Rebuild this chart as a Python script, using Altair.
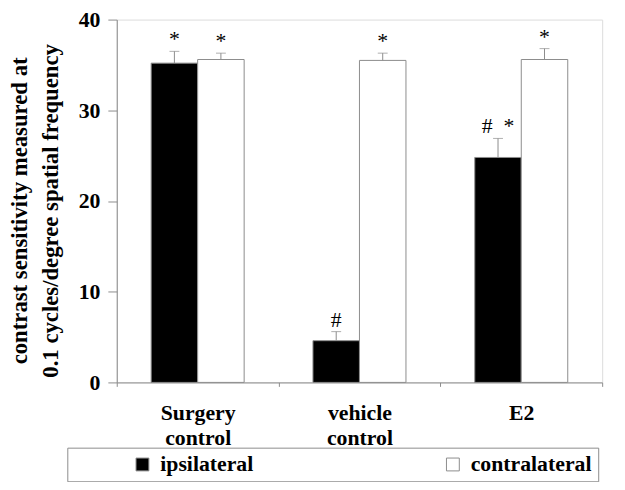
import altair as alt
import pandas as pd

groups = ["Surgery control", "vehicle control", "E2"]
sides = ["ipsilateral", "contralateral"]
ipsi = [35.2, 4.6, 24.8]
contra = [35.6, 35.5, 35.6]
ipsi_err = [1.3, 1.0, 2.1]
contra_err = [0.7, 0.8, 1.2]
ipsi_marks = ["*", "#", "#\u00a0\u00a0*"]
contra_marks = ["*", "*", "*"]

rows = []
for i, g in enumerate(groups):
    rows.append(dict(group=g, side="ipsilateral", value=ipsi[i], err=ipsi[i] + ipsi_err[i], mark=ipsi_marks[i]))
    rows.append(dict(group=g, side="contralateral", value=contra[i], err=contra[i] + contra_err[i], mark=contra_marks[i]))
df = pd.DataFrame(rows)

SERIF = "Liberation Serif"
GRAY = "#8c8c8c"

x_enc = alt.X("group:N", sort=groups, title=None,
              scale=alt.Scale(paddingInner=0, paddingOuter=0),
              axis=alt.Axis(labelExpr="split(datum.label, ' ')", labelFont=SERIF,
                            labelFontWeight="bold", labelFontSize=22, labelColor="black",
                            labelAngle=0, labelBaseline="middle", labelPadding=27,
                            labelLineHeight=25,
                            tickBand="extent", tickSize=4, tickColor=GRAY,
                            domainColor=GRAY))
xo_enc = alt.XOffset("side:N", sort=sides,
                     scale=alt.Scale(paddingInner=0, paddingOuter=0.74))

bars = alt.Chart(df).mark_bar(stroke=GRAY, strokeWidth=1).encode(
    x=x_enc,
    xOffset=xo_enc,
    y=alt.Y("value:Q", scale=alt.Scale(domain=[0, 40]),
            title=["contrast sensitivity measured at", "0.1 cycles/degree spatial frequency"],
            axis=alt.Axis(values=[0, 10, 20, 30, 40], grid=False, labelFont=SERIF,
                          labelFontWeight="bold", labelFontSize=22, labelColor="black",
                          labelPadding=8, tickSize=9, tickColor=GRAY, domainColor=GRAY,
                          titleFont=SERIF, titleFontWeight="bold", titleFontSize=23,
                          titleColor="black", titleLineHeight=31, titlePadding=16,
                          titleY=193)),
    fill=alt.Fill("side:N", sort=sides,
                  scale=alt.Scale(domain=sides, range=["black", "white"]),
                  legend=alt.Legend(title=None, orient="none", legendX=-50, legendY=433,
                                    direction="horizontal", columns=2, columnPadding=131,
                                    strokeColor=GRAY, fillColor="white", padding=6,
                                    symbolType="square", symbolSize=169,
                                    symbolStrokeColor=GRAY, symbolStrokeWidth=1,
                                    symbolOffset=59, labelOffset=7,
                                    labelFont=SERIF, labelFontWeight="bold",
                                    labelFontSize=22, labelColor="black", labelLimit=300)),
)

errs = alt.Chart(df).mark_rule(color=GRAY, strokeWidth=1).encode(
    x=alt.X("group:N", sort=groups),
    xOffset=xo_enc,
    y="value:Q",
    y2="err:Q",
)

caps = alt.Chart(df).mark_tick(color=GRAY, thickness=1, size=10, orient="horizontal").encode(
    x=alt.X("group:N", sort=groups),
    xOffset=xo_enc,
    y="err:Q",
)

labels = alt.Chart(df).mark_text(font=SERIF, fontSize=22, baseline="alphabetic", dy=-5,
                                 color="black").encode(
    x=alt.X("group:N", sort=groups),
    xOffset=xo_enc,
    y="err:Q",
    text="mark:N",
)

chart = alt.layer(bars, errs, caps, labels).properties(
    width=491, height=367,
    autosize=alt.AutoSizeParams(type="none"),
    padding={"left": 110, "top": 9, "right": 15, "bottom": 98},
).configure_view(stroke=None).configure(background="white")

chart.save("out.html", embed_options={"renderer": "svg", "actions": False})
